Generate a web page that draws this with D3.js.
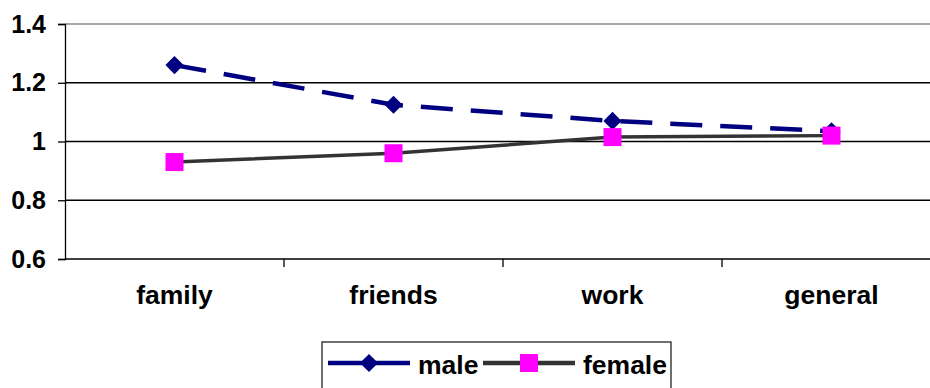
<!DOCTYPE html>
<html>
<head>
<meta charset="utf-8">
<script src="https://cdn.jsdelivr.net/npm/d3@7"></script>
<style>
  html, body { margin: 0; padding: 0; background: #fff; }
  svg { display: block; }
  text { font-family: "Liberation Sans", Arial, sans-serif; font-weight: bold; fill: #000; }
</style>
</head>
<body>
<svg id="chart" width="930" height="388"></svg>
<script>
// Chart data
const categories = ["family", "friends", "work", "general"];
const maleValues = [1.26, 1.125, 1.07, 1.035];
const femaleValues = [0.93, 0.96, 1.015, 1.02];
const yTicks = [0.6, 0.8, 1.0, 1.2, 1.4];
const seriesNames = ["male", "female"];

const svg = d3.select("#chart");
const plot = { left: 65, right: 941, top: 24, bottom: 259 };

const x = d3.scaleBand().domain(categories).range([plot.left, plot.right]).padding(0);
const y = d3.scaleLinear().domain([0.6, 1.4]).range([plot.bottom, plot.top]);
const cx = d => x(d) + x.bandwidth() / 2;

// Horizontal gridlines (top edge is the lighter plot border)
svg.append("g").selectAll("line")
  .data(yTicks.filter(t => t > 0.6))
  .join("line")
  .attr("x1", plot.left).attr("x2", plot.right)
  .attr("y1", d => y(d)).attr("y2", d => y(d))
  .attr("stroke", d => d === 1.4 ? "#8a8a8a" : "#000")
  .attr("stroke-width", 1.3);

// Y axis
const yAxis = svg.append("g")
  .attr("transform", `translate(${plot.left},0)`)
  .call(d3.axisLeft(y).tickValues(yTicks).tickSize(7).tickPadding(12)
    .tickFormat(d => d === 1 ? "1" : d3.format(".1f")(d)));
yAxis.select(".domain").attr("stroke", "#000").attr("stroke-width", 1.3);
yAxis.selectAll(".tick line").attr("stroke", "#000").attr("stroke-width", 1.3);
yAxis.selectAll(".tick text").attr("font-size", 25).attr("font-family", null).attr("fill", "#000");

// X axis with ticks at category boundaries
const xAxisG = svg.append("g").attr("transform", `translate(0,${plot.bottom})`);
xAxisG.append("line")
  .attr("x1", plot.left).attr("x2", plot.right)
  .attr("stroke", "#000").attr("stroke-width", 1.3);
xAxisG.selectAll("line.tick")
  .data(categories.slice(1))
  .join("line").attr("class", "tick")
  .attr("x1", d => x(d)).attr("x2", d => x(d))
  .attr("y1", 0).attr("y2", 8)
  .attr("stroke", "#000").attr("stroke-width", 1.3);
xAxisG.selectAll("text")
  .data(categories)
  .join("text")
  .attr("x", d => cx(d))
  .attr("y", 45)
  .attr("text-anchor", "middle")
  .attr("font-size", 26.5)
  .text(d => d);

const line = d3.line().x((d, i) => cx(categories[i])).y(d => y(d));
const diamondPath = d3.symbol().type(d3.symbolSquare).size(165);

// Male series: dashed navy line with diamonds
svg.append("path")
  .datum(maleValues)
  .attr("d", line)
  .attr("fill", "none")
  .attr("stroke", "#000080")
  .attr("stroke-width", 4.5)
  .attr("stroke-dasharray", "32,18");

svg.append("g").selectAll("path")
  .data(maleValues)
  .join("path")
  .attr("transform", (d, i) => `translate(${cx(categories[i])},${y(d)}) rotate(45)`)
  .attr("d", diamondPath)
  .attr("fill", "#000080");

// Female series: solid dark line with magenta squares
svg.append("path")
  .datum(femaleValues)
  .attr("d", line)
  .attr("fill", "none")
  .attr("stroke", "#333")
  .attr("stroke-width", 3.5);

svg.append("g").selectAll("rect")
  .data(femaleValues)
  .join("rect")
  .attr("x", (d, i) => cx(categories[i]) - 9)
  .attr("y", d => y(d) - 9)
  .attr("width", 18).attr("height", 18)
  .attr("fill", "#ff00ff");

// Legend
const legend = svg.append("g");
legend.append("rect")
  .attr("x", 322).attr("y", 342).attr("width", 349).attr("height", 60)
  .attr("fill", "#fff").attr("stroke", "#222").attr("stroke-width", 1.3);

const legendItems = [
  { name: seriesNames[0], x0: 328, x1: 410, color: "#000080", marker: "diamond" },
  { name: seriesNames[1], x0: 483, x1: 575, color: "#333", marker: "square" }
];
const ly = 363;
legendItems.forEach(it => {
  legend.append("line")
    .attr("x1", it.x0).attr("x2", it.x1).attr("y1", ly).attr("y2", ly)
    .attr("stroke", it.color).attr("stroke-width", 4.5);
  const mx = (it.x0 + it.x1) / 2;
  if (it.marker === "diamond") {
    legend.append("path")
      .attr("transform", `translate(${mx},${ly}) rotate(45)`)
      .attr("d", diamondPath)
      .attr("fill", "#000080");
  } else {
    legend.append("rect")
      .attr("x", mx - 9).attr("y", ly - 9).attr("width", 18).attr("height", 18)
      .attr("fill", "#ff00ff");
  }
  legend.append("text")
    .attr("x", it.x1 + 8).attr("y", ly + 11)
    .attr("font-size", 26.5)
    .text(it.name);
});
</script>
</body>
</html>
